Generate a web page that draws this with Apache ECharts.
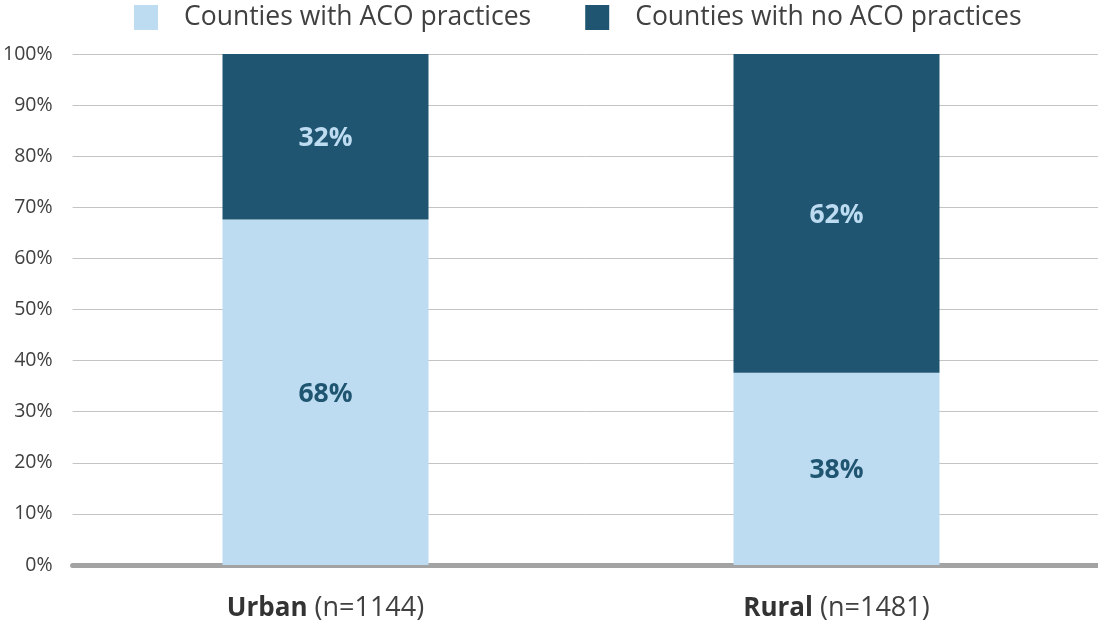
<!DOCTYPE html>
<html><head><meta charset="utf-8">
<script src="https://cdn.jsdelivr.net/npm/echarts@6/dist/echarts.min.js"></script>
<style>html,body{margin:0;padding:0;background:#fff}#c{width:1098px;height:626px}</style>
</head><body><div id="c"></div>
<script>
const categories = ['Urban', 'Rural'];
const categoryN = ['1144', '1481'];
const withACO = [67.6, 37.6];
const withoutACO = [32.4, 62.4];
const seriesNames = ['Counties with ACO practices', 'Counties with no ACO practices'];
const yTicks = [0, 10, 20, 30, 40, 50, 60, 70, 80, 90, 100];

const LIGHT = '#bddbf1', DARK = '#1f5570', TXT = '#404040';
const FONT = 'Open Sans';
const chart = echarts.init(document.getElementById('c'));
chart.setOption({
  animation: false,
  textStyle: { fontFamily: FONT },
  legend: {
    top: 4, left: 134, padding: 0,
    itemWidth: 24, itemHeight: 25, itemGap: 54,
    icon: 'rect',
    textStyle: { fontSize: 26.5, color: TXT, fontFamily: FONT, padding: [0, 0, 0, 21] },
    data: seriesNames
  },
  grid: [
    { left: 70, right: 6, top: 54, bottom: 61 },
    { left: 72, right: 0, top: 54, bottom: 61 }
  ],
  xAxis: [
    {
      type: 'category', gridIndex: 0, data: categories,
      axisLine: { show: false }, axisTick: { show: false },
      axisLabel: {
        margin: 30,
        formatter: (v, i) => '{b|' + v + '}{r| (n=' + categoryN[i] + ')}',
        rich: {
          b: { fontSize: 26, fontWeight: 'bold', color: '#333', fontFamily: FONT },
          r: { fontSize: 27, color: TXT, fontFamily: FONT }
        }
      }
    },
    {
      type: 'value', gridIndex: 1, min: 0, max: 1, position: 'bottom',
      axisLine: { show: true, onZero: false, lineStyle: { color: '#a3a3a3', width: 5 } },
      axisTick: { show: false }, axisLabel: { show: false }, splitLine: { show: false }
    }
  ],
  yAxis: [
    {
      type: 'value', gridIndex: 0, min: 0, max: 100, interval: 10,
      axisLine: { show: false }, axisTick: { show: false },
      axisLabel: { show: false }, splitLine: { show: false }
    },
    {
      type: 'value', gridIndex: 1, min: yTicks[0], max: yTicks[yTicks.length - 1], interval: 10,
      axisLine: { show: false }, axisTick: { show: false },
      axisLabel: { fontSize: 19.5, color: TXT, margin: 20, formatter: '{value}%', fontFamily: FONT },
      splitLine: { lineStyle: { color: '#c4c4c4', width: 1 } }
    }
  ],
  series: [
    {
      name: seriesNames[0], type: 'bar', stack: 's', xAxisIndex: 0, yAxisIndex: 0,
      data: withACO, barWidth: 206,
      itemStyle: { color: LIGHT },
      label: { show: true, position: 'inside', offset: [0, 2], formatter: p => Math.round(p.value) + '%',
        fontSize: 26.5, fontWeight: 'bold', color: DARK, fontFamily: FONT }
    },
    {
      name: seriesNames[1], type: 'bar', stack: 's', xAxisIndex: 0, yAxisIndex: 0,
      data: withoutACO, barWidth: 206,
      itemStyle: { color: DARK },
      label: { show: true, position: 'inside', offset: [0, 2], formatter: p => Math.round(p.value) + '%',
        fontSize: 26.5, fontWeight: 'bold', color: LIGHT, fontFamily: FONT }
    }
  ]
});
</script></body></html>
